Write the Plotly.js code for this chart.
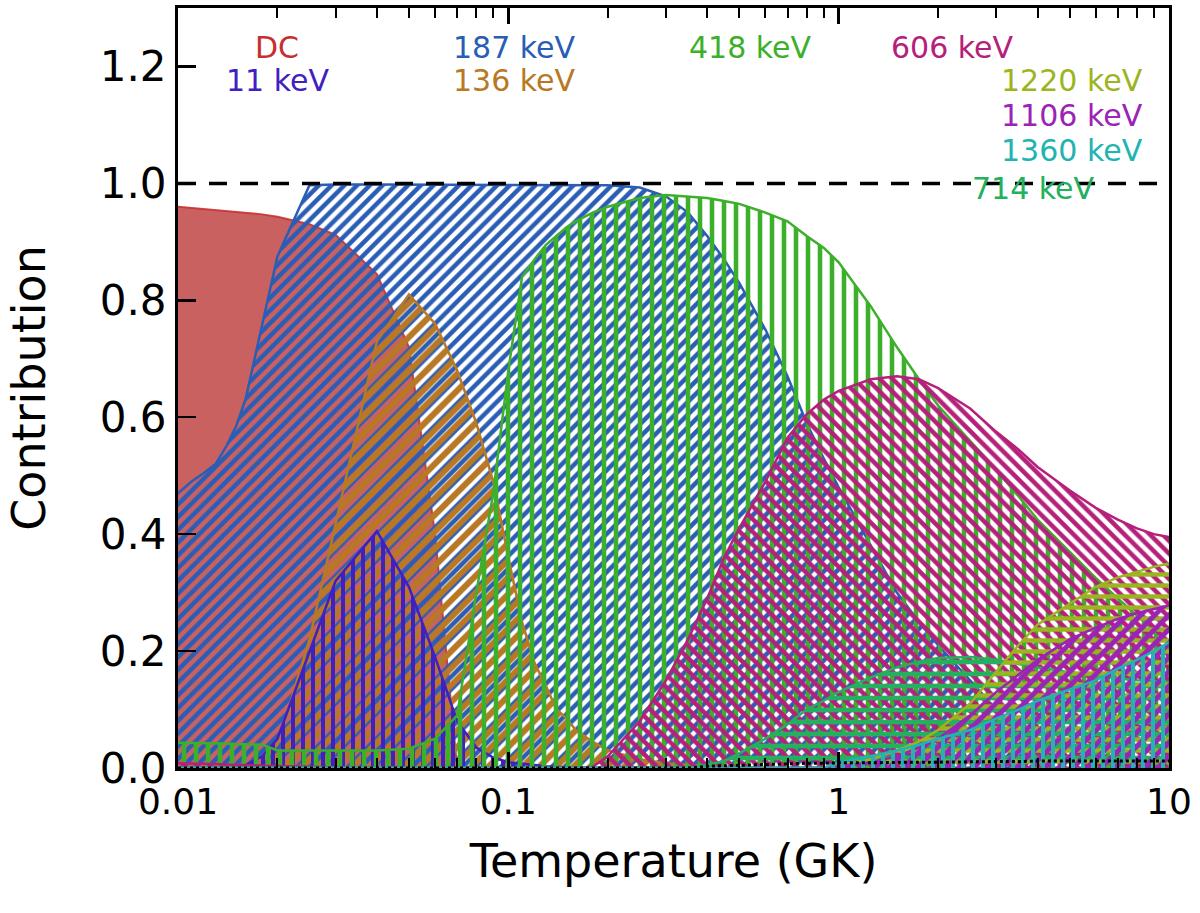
<!DOCTYPE html>
<html><head><meta charset="utf-8">
<script src="https://cdn.plot.ly/plotly-3.0.1.min.js"></script>
<style>html,body{margin:0;padding:0;background:#fff}</style>
</head><body><div id="chart" style="width:1200px;height:913px"></div>
<script>
const temperature = [0.01,0.011,0.012,0.013,0.014,0.015,0.016,0.018,0.02,0.025,0.03,0.04,0.05,0.06,0.07,0.08,0.09,0.1,0.11,0.12,0.13,0.14,0.15,0.16,0.18,0.2,0.25,0.3,0.35,0.4,0.45,0.5,0.6,0.7,0.8,0.9,1,1.25,1.5,1.75,2,2.5,3,3.5,4,5,6,7,8,9,10];
const dcValues   = [0.96,0.958,0.956,0.955,0.953,0.951,0.95,0.947,0.943,0.93,0.912,0.845,0.72,0.40,0.0,0,0,0,0,0,0,0,0,0,0,0,0,0,0,0,0,0,0,0,0,0,0,0,0,0,0,0,0,0,0,0,0,0,0,0,0];
const kev187     = [0.47,0.49,0.505,0.52,0.55,0.585,0.63,0.76,0.875,0.997,0.998,0.998,0.998,0.998,0.998,0.998,0.998,0.998,0.998,0.998,0.998,0.998,0.998,0.998,0.998,0.997,0.993,0.978,0.95,0.91,0.87,0.83,0.75,0.67,0.59,0.53,0.48,0.38,0.30,0.25,0.21,0.15,0.10,0.07,0.05,0.03,0.02,0.015,0.012,0.01,0.01];
const kev136     = [0,0,0,0,0,0,0,0.01,0.04,0.22,0.42,0.73,0.81,0.76,0.68,0.59,0.49,0.36,0.25,0.18,0.14,0.10,0.085,0.065,0.045,0.03,0.015,0.008,0.005,0.003,0.002,0.001,0,0,0,0,0,0,0,0,0,0,0,0,0,0,0,0,0,0,0];
const kev11      = [0,0,0,0,0,0,0.005,0.02,0.05,0.2,0.32,0.405,0.31,0.19,0.08,0.035,0.018,0.01,0.007,0.005,0.003,0.002,0.001,0,0,0,0,0,0,0,0,0,0,0,0,0,0,0,0,0,0,0,0,0,0,0,0,0,0,0,0];
const kev418     = [0.043,0.043,0.043,0.042,0.042,0.041,0.041,0.04,0.03,0.03,0.03,0.03,0.033,0.05,0.09,0.30,0.47,0.68,0.84,0.87,0.895,0.91,0.925,0.935,0.95,0.96,0.975,0.98,0.978,0.975,0.97,0.965,0.95,0.935,0.91,0.89,0.865,0.79,0.72,0.665,0.62,0.56,0.51,0.465,0.425,0.37,0.325,0.29,0.26,0.235,0.215];
const kev606     = [0.008,0.008,0.007,0.007,0.006,0.006,0.005,0.004,0.003,0.002,0.001,0,0,0,0,0,0,0,0,0,0,0,0,0,0.002,0.02,0.08,0.15,0.22,0.29,0.36,0.41,0.49,0.565,0.605,0.63,0.645,0.665,0.67,0.665,0.65,0.615,0.575,0.545,0.515,0.475,0.445,0.425,0.41,0.40,0.395];
const kev714     = [0,0,0,0,0,0,0,0,0,0,0,0,0,0,0,0,0,0,0,0,0,0,0,0,0,0,0,0,0,0.005,0.012,0.025,0.05,0.075,0.1,0.115,0.13,0.155,0.172,0.182,0.188,0.19,0.185,0.178,0.172,0.164,0.158,0.153,0.15,0.148,0.147];
const kev1220    = [0,0,0,0,0,0,0,0,0,0,0,0,0,0,0,0,0,0,0,0,0,0,0,0,0,0,0,0,0,0,0,0,0,0,0,0,0.005,0.015,0.03,0.045,0.065,0.11,0.165,0.21,0.245,0.28,0.31,0.326,0.336,0.344,0.35];
const kev1106    = [0,0,0,0,0,0,0,0,0,0,0,0,0,0,0,0,0,0,0,0,0,0,0,0,0,0,0,0,0,0,0,0,0,0,0,0,0.003,0.01,0.02,0.035,0.05,0.09,0.13,0.16,0.185,0.22,0.24,0.255,0.265,0.272,0.278];
const kev1360    = [0,0,0,0,0,0,0,0,0,0,0,0,0,0,0,0,0,0,0,0,0,0,0,0,0,0,0,0,0,0,0,0,0,0,0,0,0.01,0.02,0.03,0.04,0.05,0.065,0.085,0.1,0.115,0.135,0.15,0.17,0.185,0.2,0.215];
const otherValues= [0,0,0,0,0,0,0,0,0,0,0,0,0,0,0,0,0,0,0,0,0,0,0,0,0,0,0,0,0,0.003,0.004,0.005,0.006,0.007,0.008,0.008,0.009,0.009,0.01,0.01,0.01,0.011,0.011,0.011,0.012,0.012,0.012,0.012,0.012,0.012,0.012];
const unityLine  = [1, 1];

const seriesNames  = ['DC','187 keV','136 keV','11 keV','418 keV','606 keV','714 keV','1220 keV','1106 keV','1360 keV'];
const seriesValues = [dcValues,kev187,kev136,kev11,kev418,kev606,kev714,kev1220,kev1106,kev1360];
const seriesColors = ['#c62f2f','#2a5db5','#b87824','#4020c0','#3cb02a','#b5207a','#25b060','#9ab51e','#9b23b5','#22b3b3'];
const seriesShapes = ['', '/', '/', '|', '|', '\\', '-', '-', '/', '|'];
const seriesSizes  = [0, 9, 12, 10, 12, 9, 12, 11, 10, 10];
const seriesSolid  = [0, 0.5, 0.5, 0.4, 0.38, 0.5, 0.38, 0.4, 0.5, 0.4];

const xTickVals = [0.01, 0.1, 1, 10];
const xTickText = ['0.01', '0.1', '1', '10'];
const xMinorVals = [0.02,0.03,0.04,0.05,0.06,0.07,0.08,0.09,0.2,0.3,0.4,0.5,0.6,0.7,0.8,0.9,2,3,4,5,6,7,8,9];

const labelTexts  = ['DC','11 keV','187 keV','136 keV','418 keV','606 keV','1220 keV','1106 keV','1360 keV','714 keV'];
const labelColors = ['#c62f2f','#4020c0','#2a5db5','#b87824','#3cb02a','#b5207a','#9ab51e','#9b23b5','#22b3b3','#25b060'];
const labelX = [0.100,0.100,0.340,0.340,0.578,0.782,0.902,0.902,0.902,0.863];
const labelY = [0.948,0.905,0.948,0.905,0.948,0.948,0.905,0.859,0.813,0.763];

const traces = [];
seriesNames.forEach((name, i) => {
  const c = seriesColors[i];
  const t = {
    x: temperature, y: seriesValues[i], name: name, type: 'scatter', mode: 'lines',
    line: {color: c, width: 2.5}, fill: 'tozeroy', hoverinfo: 'skip'
  };
  if (seriesShapes[i] === '') {
    t.fillcolor = 'rgba(180,30,30,0.7)';
    t.line = {color: 'rgba(200,50,50,0.9)', width: 2};
  } else {
    t.fillcolor = 'rgba(0,0,0,0)';
    t.fillpattern = {shape: seriesShapes[i], fgcolor: c, bgcolor: 'rgba(0,0,0,0)', size: seriesSizes[i], solidity: seriesSolid[i], fillmode: 'replace'};
  }
  traces.push(t);
});
traces.push({x: temperature, y: otherValues, type: 'scatter', mode: 'lines', line: {color: '#000', width: 3, dash: 'dot'}, hoverinfo: 'skip'});
traces.push({x: [temperature[0], temperature[temperature.length-1]], y: unityLine, type: 'scatter', mode: 'lines', line: {color: '#000', width: 3.5, dash: '18px,13px'}, hoverinfo: 'skip'});

const annotations = labelTexts.map((txt, i) => ({
  text: txt, xref: 'paper', yref: 'paper', x: labelX[i], y: labelY[i],
  xanchor: 'center', yanchor: 'middle', showarrow: false,
  font: {family: 'DejaVu Sans', size: 30, color: labelColors[i]}
}));

const layout = {
  width: 1200, height: 913,
  margin: {l: 178, r: 31, t: 8, b: 145},
  paper_bgcolor: '#fff', plot_bgcolor: '#fff',
  showlegend: false,
  font: {family: 'DejaVu Sans', color: '#000'},
  xaxis: {
    type: 'log', range: [-2, 1], tickmode: 'array', tickvals: xTickVals, ticktext: xTickText,
    ticks: 'inside', ticklen: 16, tickwidth: 2.5, tickcolor: '#000',
    mirror: 'allticks', showline: true, linewidth: 3, linecolor: '#000',
    showgrid: false, zeroline: false,
    tickfont: {family: 'DejaVu Sans', size: 36},
    minor: {tickmode: 'array', tickvals: xMinorVals, ticks: 'inside', ticklen: 10, tickwidth: 2, tickcolor: '#000', showgrid: false},
    title: {text: 'Temperature (GK)', font: {family: 'DejaVu Sans', size: 46}, standoff: 24}
  },
  yaxis: {
    range: [0, 1.3], tickmode: 'linear', tick0: 0, dtick: 0.2, tickformat: '.1f',
    ticks: 'inside', ticklen: 18, tickwidth: 2.5, tickcolor: '#000',
    mirror: true, showline: true, linewidth: 3, linecolor: '#000',
    showgrid: false, zeroline: false,
    tickfont: {family: 'DejaVu Sans', size: 42},
    title: {text: 'Contribution', font: {family: 'DejaVu Sans', size: 46}, standoff: 40}
  },
  annotations: annotations
};

Plotly.newPlot('chart', traces, layout, {staticPlot: true, displayModeBar: false});
</script>
</body></html>
